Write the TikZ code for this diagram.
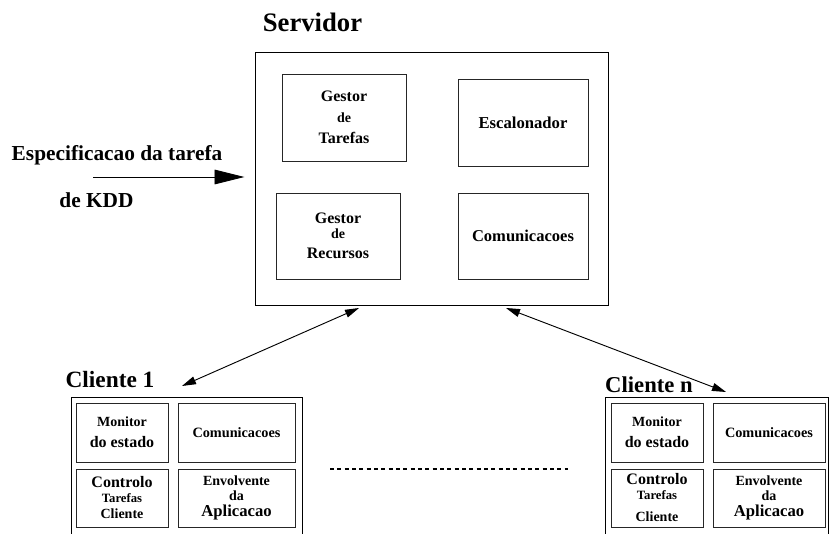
\documentclass[tikz,border=0pt]{standalone}
\usepackage{fontspec}
\setmainfont{Liberation Serif}
\usetikzlibrary{arrows.meta}
\newcommand{\fs}[2]{\fontsize{#1}{#2}\selectfont}

\begin{document}
\begin{tikzpicture}[
          x=0.75pt, y=-0.75pt,
          box/.style={draw=black!85, line width=0.6pt, inner sep=0pt, align=center, font=\bfseries\fs{12}{15.75}},
          frame/.style={draw, line width=0.75pt, inner sep=0pt},
          title/.style={anchor=base, inner sep=0pt, font=\bfseries\fs{17.5}{21}},
          link/.style={line width=0.7pt, {Triangle[length=10.5pt,width=6pt]}-{Triangle[length=10.5pt,width=6pt]}}
        ]
        \useasboundingbox (0,0) rectangle (829,534);

        \node[title, font=\bfseries\fs{20}{24}] (srvtitle) at (312.5,32) {Servidor};
        \node[frame, minimum width=264.75pt, minimum height=189.75pt] (srv) at (431.5,179.5) {};
        \node[box, minimum width=93pt, minimum height=65.25pt] (gtar) at (344,117.5)
          {Gestor\\{\fs{10.5}{12}de}\\Tarefas};
        \node[box, font=\bfseries\fs{12.5}{15}, minimum width=97.5pt, minimum height=65.25pt] (esc) at (523,122.5)
          {Escalonador};
        \node[box, minimum width=93pt, minimum height=64.5pt] (grec) at (338,236)
          {Gestor\\[-4.5pt]{\fs{10.5}{12}de}\\[-0.75pt]Recursos};
        \node[box, font=\bfseries\fs{12.4}{15}, minimum width=97.5pt, minimum height=64.5pt] (scom) at (523,236)
          {Comunicacoes};

        \node[title, font=\bfseries\fs{16}{19}] (spec) at (117,161) {Especificacao da tarefa};
        \node[title, font=\bfseries\fs{16}{19}] (kddtxt) at (96.5,208) {de KDD};
        \coordinate (kdd) at (93,177);
        \draw[line width=0.7pt, -{Triangle[length=22.5pt,width=11pt]}, shorten >=7.5pt] (kdd) -- (kdd -| srv.west);

        \node[title] (c1title) at (110,388) {Cliente 1};
        \node[frame, minimum width=173.25pt, minimum height=121.5pt] (cli1) at (186.5,479) {};
        \node[box, minimum width=69pt, minimum height=44.25pt] (mon1) at (122,432.5)
          {{\fs{10.5}{12}Monitor}\\do estado};
        \node[box, font=\bfseries\fs{10.7}{13}, minimum width=87.75pt, minimum height=44.25pt] (com1) at (236.5,432.5)
          {Comunicacoes};
        \node[box, minimum width=69pt, minimum height=43.5pt] (ctl1) at (122,498)
          {Controlo\\[-4.5pt]{\fs{9.5}{11}Tarefas}\\[-3.75pt]{\fs{10.5}{12}Cliente}};
        \node[box, minimum width=87.75pt, minimum height=43.5pt] (env1) at (236.5,498)
          {{\fs{10.5}{12}Envolvente}\\[-4.5pt]{\fs{10.5}{12}da}\\[-3.75pt]{\fs{12.5}{14}Aplicacao}};

        \node[title, font=\bfseries\fs{17}{20}] (cntitle) at (649,393) {Cliente n};
        \node[frame, minimum width=167.25pt, minimum height=121.5pt] (clin) at (716.5,479) {};
        \node[box, minimum width=69pt, minimum height=44.25pt] (monn) at (657,432.5)
          {{\fs{10.5}{12}Monitor}\\do estado};
        \node[box, font=\bfseries\fs{10.7}{13}, minimum width=84pt, minimum height=44.25pt] (comn) at (769,432.5)
          {Comunicacoes};
        \node[box, minimum width=69pt, minimum height=43.5pt] (ctln) at (657,498)
          {Controlo\\[-4.5pt]{\fs{9.5}{11}Tarefas}\\[0.75pt]{\fs{10.5}{12}Cliente}};
        \node[box, minimum width=84pt, minimum height=43.5pt] (envn) at (769,498)
          {{\fs{10.5}{12}Envolvente}\\[-4.5pt]{\fs{10.5}{12}da}\\[-3.75pt]{\fs{12.5}{14}Aplicacao}};

        \coordinate (s1) at (359,308);
        \coordinate (t1) at (182,386);
        \coordinate (sn) at (506,308);
        \coordinate (tn) at (726,392);
        \draw[link] (s1) -- (t1);
        \draw[link] (sn) -- (tn);

        \coordinate (dl) at (330,469);
        \coordinate (dr) at (568,469);
        \draw[line width=1.1pt, dash pattern=on 3pt off 2.5pt] (dl) -- (dr);
        \end{tikzpicture}
\end{document}
